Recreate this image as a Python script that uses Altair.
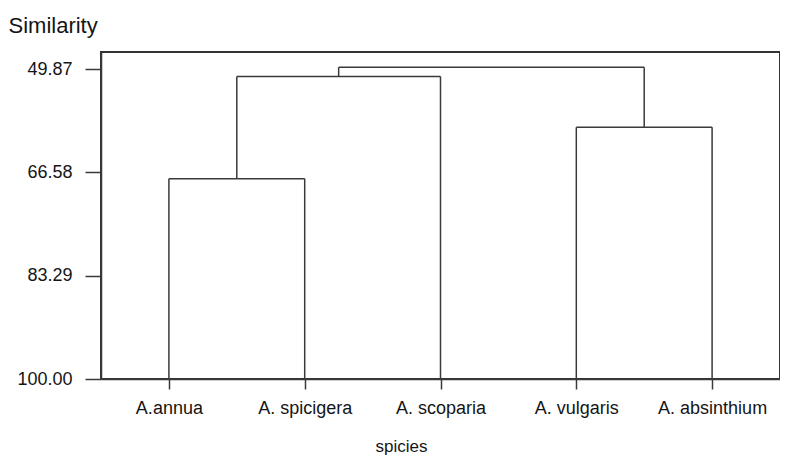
import altair as alt
import pandas as pd

# Leaves (species) in dendrogram order
leaves = ["A.annua", "A. spicigera", "A. scoparia", "A. vulgaris", "A. absinthium"]
leaf_level = 100.0
# Merges: (left node, right node, similarity level); nodes 0-4 are leaves, 5+ are merges
merge_left = [0, 5, 3, 6]
merge_right = [1, 2, 4, 7]
merge_level = [67.6, 51.1, 59.3, 49.6]
y_ticks = [49.87, 66.58, 83.29, 100.00]

# Build dendrogram segments
xpos = {i: float(i) for i in range(len(leaves))}
lev = {i: leaf_level for i in range(len(leaves))}
rows = []
for k, (a, b, h) in enumerate(zip(merge_left, merge_right, merge_level)):
    node = len(leaves) + k
    rows.append({"x": xpos[a], "x2": xpos[a], "y": lev[a], "y2": h})
    rows.append({"x": xpos[b], "x2": xpos[b], "y": lev[b], "y2": h})
    rows.append({"x": xpos[a], "x2": xpos[b], "y": h, "y2": h})
    xpos[node] = (xpos[a] + xpos[b]) / 2
    lev[node] = h
df = pd.DataFrame(rows)

label_js = "[" + ",".join("'" + s + "'" for s in leaves) + "]"
FONT = "Liberation Sans"
INK = "#3a3a3a"

chart = alt.Chart(df).mark_rule(color=INK, strokeWidth=1.5).encode(
    x=alt.X("x:Q",
            scale=alt.Scale(domain=[-0.5, len(leaves) - 0.5], nice=False, zero=False),
            axis=alt.Axis(values=list(range(len(leaves))),
                          labelExpr=label_js + "[round(datum.value)]",
                          title="spicies", titleX=300, titleY=67,
                          titleBaseline="middle", titleAlign="center",
                          titleFontSize=17, titleFontWeight="normal",
                          tickSize=10, labelPadding=10, labelFontSize=18,
                          grid=False)),
    x2="x2:Q",
    y=alt.Y("y:Q",
            scale=alt.Scale(domain=[47.12, 100], reverse=True, nice=False, zero=False),
            axis=alt.Axis(values=y_ticks, format=".2f",
                          title="Similarity", titleAngle=0, titleX=-93, titleY=-27,
                          titleAlign="left", titleBaseline="middle",
                          titleFontSize=22, titleFontWeight="normal",
                          tickSize=16, labelPadding=13, labelFontSize=18,
                          grid=False)),
    y2="y2:Q",
).properties(
    width=679, height=327,
    background="white",
    autosize=alt.AutoSizeParams(type="none"),
    padding={"left": 93, "top": 44, "right": 0, "bottom": 76},
).configure_view(
    stroke="#333333", strokeWidth=2
).configure_axis(
    labelFont=FONT, titleFont=FONT, labelColor="#151515", titleColor="#151515",
    domainColor=INK, tickColor=INK, domainWidth=1.5, tickWidth=1.5
)

chart.save("out.html", embed_options={"renderer": "svg", "actions": False})
